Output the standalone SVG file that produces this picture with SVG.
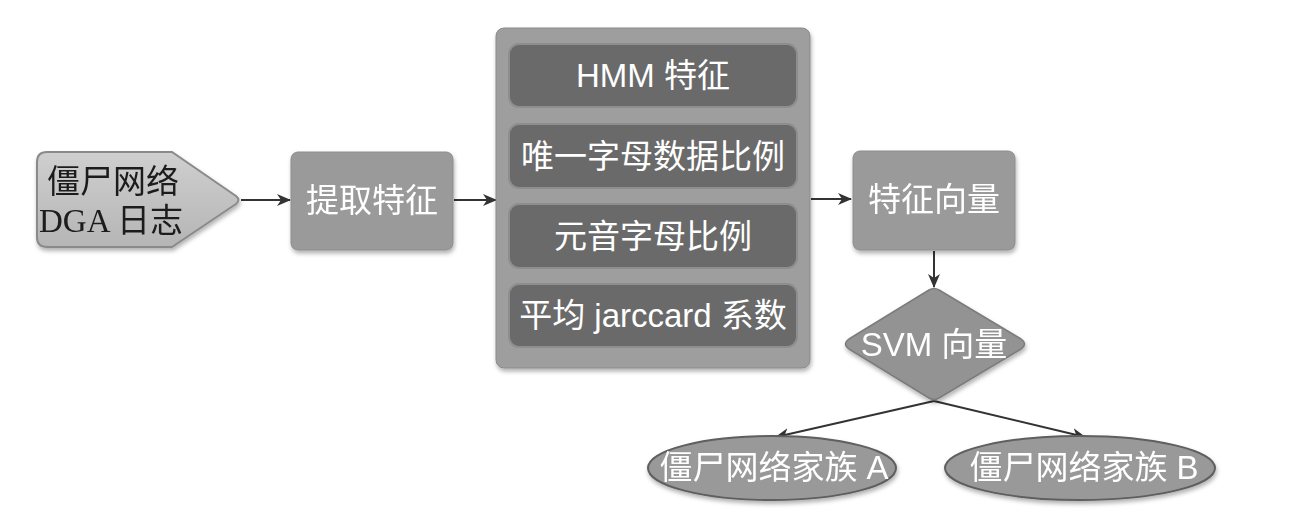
<svg xmlns="http://www.w3.org/2000/svg" width="1298" height="530" viewBox="0 0 1298 530">
<style>
.wt{font-family:"Liberation Sans","Noto Sans CJK SC",sans-serif;fill:#ffffff;font-size:33px;text-anchor:middle}
.bt{font-family:"Liberation Serif","Noto Sans CJK SC",serif;fill:#1a1a1a;font-size:33px}
.box{fill:#9a9a9a;stroke:#8c8c8c;stroke-width:1}
.inner{fill:#6a6a6a;stroke:#8e8e8e;stroke-width:2}
.conn{stroke:#333;stroke-width:2;fill:none;marker-end:url(#ah)}
</style>
<defs>
<marker id="ah" viewBox="0 0 14 12" refX="13" refY="6" markerWidth="14" markerHeight="12" markerUnits="userSpaceOnUse" orient="auto">
<path d="M0,0 L14,6 L0,12 L4,6 z" fill="#333"/>
</marker>
<filter id="sh" x="-10%" y="-10%" width="120%" height="130%">
<feDropShadow dx="1" dy="3" stdDeviation="2" flood-color="#000" flood-opacity="0.3"/>
</filter>
<linearGradient id="tg" x1="0" y1="0" x2="0" y2="1">
<stop offset="0" stop-color="#cfcfcf"/>
<stop offset="1" stop-color="#b5b5b5"/>
</linearGradient>
</defs>
<rect width="1298" height="530" fill="#ffffff"/>
<g id="connectors">
<line class="conn" x1="241" y1="200" x2="290" y2="200"/>
<line class="conn" x1="454" y1="200" x2="496" y2="200"/>
<line class="conn" x1="811" y1="199" x2="851" y2="199"/>
<line class="conn" x1="934" y1="251" x2="934" y2="287"/>
<line class="conn" x1="934" y1="401" x2="776" y2="437"/>
<line class="conn" x1="934" y1="401" x2="1085" y2="437"/>
</g>
<g id="dga-log" filter="url(#sh)">
<path d="M47,152 L172,152 L236,196 Q241,200 236,204 L172,247 L47,247 Q37,247 37,237 L37,162 Q37,152 47,152 z" fill="url(#tg)" stroke="#8a8a8a" stroke-width="2"/>
<text class="bt" x="47" y="193">僵尸网络</text>
<text class="bt" x="39" y="232">DGA 日志</text>
</g>
<g id="extract" filter="url(#sh)">
<rect class="box" x="291" y="152" width="162" height="98" rx="7"/>
<text class="wt" x="372" y="212">提取特征</text>
</g>
<g id="features">
<rect x="496" y="28" width="314" height="340" rx="8" fill="#9e9e9e" stroke="#8a8a8a" stroke-width="1" filter="url(#sh)"/>
<g id="f-hmm">
<rect class="inner" x="509" y="44" width="288" height="63" rx="10"/>
<text class="wt" x="653" y="87">HMM 特征</text>
</g>
<g id="f-unique">
<rect class="inner" x="509" y="124" width="288" height="64" rx="10"/>
<text class="wt" x="653" y="168">唯一字母数据比例</text>
</g>
<g id="f-vowel">
<rect class="inner" x="509" y="204" width="288" height="64" rx="10"/>
<text class="wt" x="653" y="248">元音字母比例</text>
</g>
<g id="f-jaccard">
<rect class="inner" x="509" y="284" width="288" height="63" rx="10"/>
<text class="wt" x="653" y="327">平均 jarccard 系数</text>
</g>
</g>
<g id="vector" filter="url(#sh)">
<rect class="box" x="853" y="151" width="162" height="99" rx="7"/>
<text class="wt" x="934" y="211">特征向量</text>
</g>
<g id="svm" filter="url(#sh)">
<path d="M929,290 Q934,287 939,290 L1021,339 Q1028,344 1021,349 L939,398 Q934,401 929,398 L849,349 Q842,344 849,339 z" fill="#939393" stroke="#7c7c7c" stroke-width="1.5"/>
<text class="wt" x="934" y="356">SVM 向量</text>
</g>
<g id="family-a" filter="url(#sh)">
<ellipse cx="772" cy="468" rx="124" ry="32" fill="#999" stroke="#5e5e5e" stroke-width="2"/>
<text class="wt" x="774" y="479" font-size="29">僵尸网络家族 A</text>
</g>
<g id="family-b" filter="url(#sh)">
<ellipse cx="1080" cy="468" rx="135" ry="32" fill="#999" stroke="#5e5e5e" stroke-width="2"/>
<text class="wt" x="1084" y="479" font-size="30">僵尸网络家族 B</text>
</g>
</svg>
